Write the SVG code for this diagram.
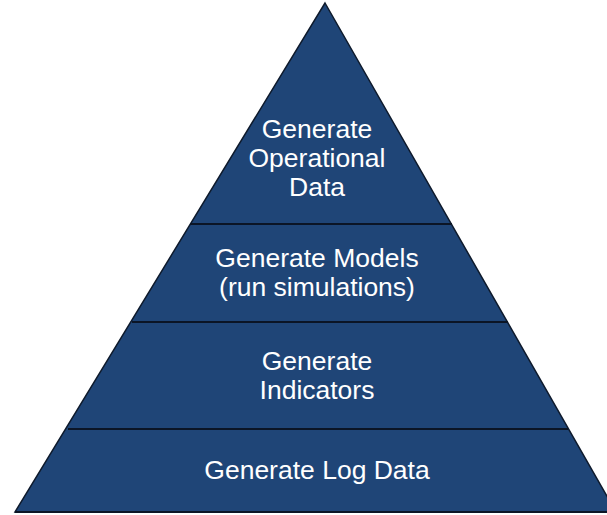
<svg xmlns="http://www.w3.org/2000/svg" width="607" height="515" viewBox="0 0 607 515">
<style>
.layer{fill:#1f4577;stroke:#0e1a2c;stroke-width:1.5;stroke-linejoin:miter}
.div{stroke:#0b1526;stroke-width:2}
.lbl{font-family:"Liberation Sans",Arial,sans-serif;font-size:26.5px;fill:#ffffff;text-anchor:middle}
</style>
<rect width="607" height="515" fill="#ffffff"/>
<g id="pyramid">
<polygon class="layer" points="325,3 616,512 15,512"/>
</g>
<g id="connectors">
<line class="div" x1="190" y1="224" x2="452" y2="224"/>
<line class="div" x1="132" y1="322" x2="508" y2="322"/>
<line class="div" x1="68" y1="429" x2="568" y2="429"/>
<line class="div" x1="15" y1="512" x2="607" y2="512"/>
</g>
<g id="layer1">
<text class="lbl" x="317" y="138">Generate</text>
<text class="lbl" x="317" y="167">Operational</text>
<text class="lbl" x="317" y="196">Data</text>
</g>
<g id="layer2">
<text class="lbl" x="317" y="267">Generate Models</text>
<text class="lbl" x="317" y="296">(run simulations)</text>
</g>
<g id="layer3">
<text class="lbl" x="317" y="370">Generate</text>
<text class="lbl" x="317" y="399">Indicators</text>
</g>
<g id="layer4">
<text class="lbl" x="317" y="479">Generate Log Data</text>
</g>
</svg>
